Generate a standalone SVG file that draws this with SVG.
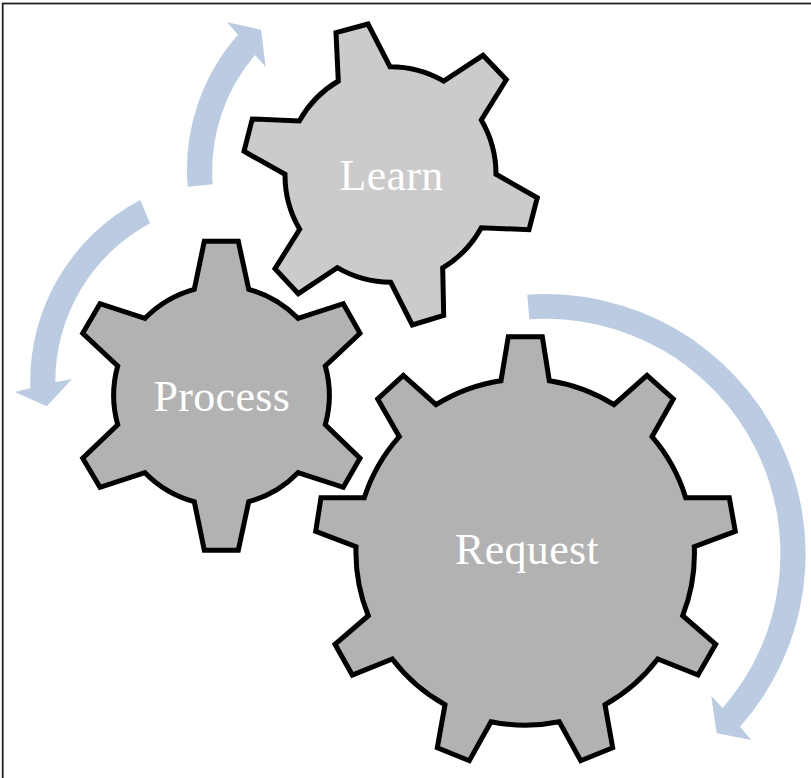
<svg xmlns="http://www.w3.org/2000/svg" width="811" height="778" viewBox="0 0 811 778">
<style>
.gear{stroke:#000;stroke-width:5;stroke-linejoin:miter;stroke-miterlimit:10}
.dark{fill:#b2b2b2}
.light{fill:#cbcbcb}
.arrow{fill:#bbcce2;stroke:none}
.label{font-family:"Liberation Serif","Times New Roman",serif;font-size:44px;letter-spacing:.3px;fill:#fff;text-anchor:middle}
</style>
<rect width="811" height="778" fill="#fff"/>
<rect x="2.7" y="3.5" width="830" height="800" fill="none" stroke="#222" stroke-width="1.8"/>
<g id="connectors">
<path class="arrow" d="M187.7 186.7A204 204 0 0 1 238 34.7L227 22.3L261 29.7L265.7 67L255 55A179 179 0 0 0 212.7 184.3Z"/>
<path class="arrow" d="M140.3 200A205 205 0 0 0 30.3 388.3L14.7 392L46.7 406.3L72 379L55.3 382.3A180 180 0 0 1 150 223.3Z"/>
<path class="arrow" d="M527.3 294.7A260 260 0 0 1 740 726.7L751.3 740L716.7 733.3L711.3 696L722.7 708A235 235 0 0 0 529.3 319.3Z"/>
</g>
<g id="learn">
<path class="gear light" d="M336 32.7L368 24L390 66.7A107 107 0 0 1 443.7 81L483 55.3L506.3 79.7L481.3 120A107 107 0 0 1 496 174.3L537.3 197.7L529 229.7L481.3 227.7A107 107 0 0 1 442.7 268L443.7 315.3L412.3 325L390.7 282.3A107 107 0 0 1 337.3 267.7L298.3 293.7L275 268.7L299.7 229.3A107 107 0 0 1 285 174.3L244 151.3L252.3 119L299.3 121A107 107 0 0 1 338.3 81Z"/>
<text class="label" x="391.5" y="190">Learn</text>
</g>
<g id="process">
<path class="gear dark" d="M204.3 241.3L238.3 241.3L248.7 289.3A109 109 0 0 1 298 318.3L343.3 303.7L360 333.3L325.3 366A109 109 0 0 1 325.3 424.7L360 458.3L343.3 487.3L298 472.7A109 109 0 0 1 248.7 501.7L238.3 550.3L204.3 550.3L194.3 501.7A109 109 0 0 1 145 472.7L100 487.3L82.7 458.3L117.7 424.7A109 109 0 0 1 117.7 366L82.7 333.3L100 303.7L145 318.3A109 109 0 0 1 194.3 289.3Z"/>
<text class="label" x="221.8" y="411">Process</text>
</g>
<g id="request">
<path class="gear dark" d="M508.3 336.7L542.3 336.7L549.3 380.7A170 170 0 0 1 614 404.7L647 375.3L673.3 399L652 436.7A170 170 0 0 1 685.7 497.7L729.3 497.7L735.3 531.3L694.3 546.7A170 170 0 0 1 682.7 615.7L715.7 644.3L698 675L657.7 659A170 170 0 0 1 605 704.7L612.7 747.7L580.7 760.7L559.3 721.7A170 170 0 0 1 491 721.7L469.3 760.7L437.3 747.7L445 704.7A170 170 0 0 1 392.3 659L352.3 675L335 644.3L368.3 615.7A170 170 0 0 1 356 546.7L315.7 531.3L321 497.7L364.3 497.7A170 170 0 0 1 399.3 436.7L377.7 399L403.3 375.3L436 404.7A170 170 0 0 1 501 380.7Z"/>
<text class="label" x="527" y="563.5">Request</text>
</g>
</svg>
